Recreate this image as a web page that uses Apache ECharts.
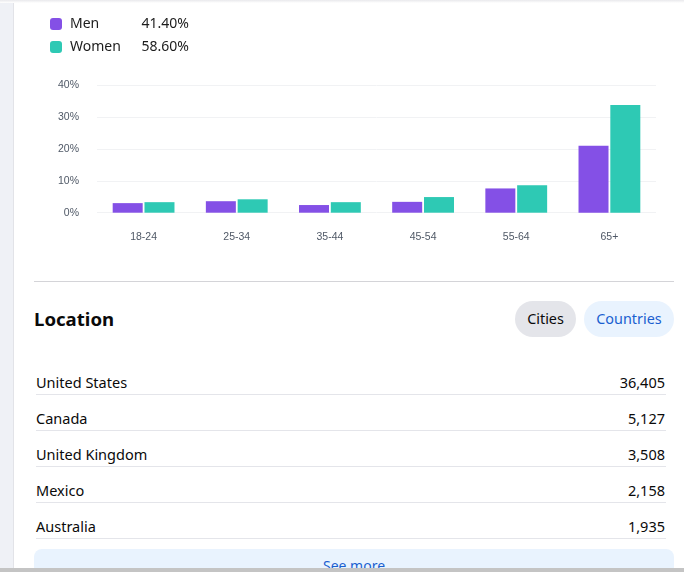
<!DOCTYPE html>
<html>
<head>
    <title>Audience</title>
    <script src="https://cdn.jsdelivr.net/npm/echarts@6/dist/echarts.min.js"></script>
    <style>
        html, body { margin: 0; padding: 0; width: 684px; height: 572px; overflow: hidden; background: #fff; }
        body { font-family: "Noto Sans", sans-serif; color: #0a0a0a; }
        /* 页面外框 */
        .side { position: absolute; left: 0; top: 0; width: 13px; height: 572px; background: #eff1f6; border-right: 1px solid #e2e3e8; }
        .shade { position: absolute; left: 0; top: 0; width: 684px; height: 3px; background: linear-gradient(#e9e9ec, #fff); }
        .foot { position: absolute; left: 0; top: 568px; width: 684px; height: 4px; background: #c4c4c4; z-index: 3; }
        #chart { position: absolute; left: 0; top: 0; width: 684px; height: 250px; }
        .rule { position: absolute; left: 34px; top: 281px; width: 640px; height: 1px; background: #d4d4d8; }
        .heading { position: absolute; left: 34px; top: 305px; line-height: 28px; font-size: 18.6px; font-weight: 700; }
        .pill { position: absolute; top: 301px; height: 36px; line-height: 36px; border-radius: 18px; text-align: center; font-size: 14.4px; }
        .cities { left: 515px; width: 61px; background: #e4e5ea; }
        .countries { left: 584px; width: 90px; background: #e9f3fe; color: #1a5fd0; }
        .row { position: absolute; left: 36px; width: 630px; height: 24px; line-height: 25px; font-size: 14.5px; border-bottom: 1px solid #e4e5ea; }
        .row b { font-weight: 400; position: absolute; right: 1px; }
        .more { position: absolute; left: 34px; top: 549px; width: 640px; height: 40px; border-radius: 8px; background: #e9f3fe; color: #1a5fd0; text-align: center; line-height: 34px; font-size: 14px; }
    </style>
</head>
<body>
    <div class="side"></div>
    <div class="shade"></div>
    <div id="chart"></div>
    <div class="rule"></div>
    <div class="heading">Location</div>
    <div class="pill cities">Cities</div>
    <div class="pill countries">Countries</div>
    <div id="rows"></div>
    <div class="more">See more</div>
    <div class="foot"></div>

    <script>
        // 数据
        var ageGroups = ['18-24', '25-34', '35-44', '45-54', '55-64', '65+'];
        var menValues = [3.0, 3.6, 2.4, 3.4, 7.6, 21.0];
        var womenValues = [3.3, 4.2, 3.3, 4.9, 8.6, 33.7];
        var genderShares = { Men: '41.40%', Women: '58.60%' };
        var countries = ['United States', 'Canada', 'United Kingdom', 'Mexico', 'Australia'];
        var countryCounts = ['36,405', '5,127', '3,508', '2,158', '1,935'];

        // 地区列表
        var rowsBox = document.getElementById('rows');
        countries.forEach(function (name, i) {
            var row = document.createElement('div');
            row.className = 'row';
            row.style.top = (370 + i * 36) + 'px';
            row.textContent = name;
            var count = document.createElement('b');
            count.textContent = countryCounts[i];
            row.appendChild(count);
            rowsBox.appendChild(row);
        });

        // 年龄性别图表
        var chart = echarts.init(document.getElementById('chart'));
        chart.setOption({
            animation: false,
            legend: {
                left: 50,
                top: 17,
                padding: 0,
                orient: 'vertical',
                icon: 'roundRect',
                itemWidth: 12,
                itemHeight: 12,
                itemGap: 9,
                selectedMode: false,
                formatter: function (name) {
                    return '{n|' + name + '}{v|' + genderShares[name] + '}';
                },
                textStyle: {
                    rich: {
                        n: { width: 66, height: 12, padding: [0, 0, 0, 3], fontSize: 14, fontFamily: 'Noto Sans', color: '#1c1c1c' },
                        v: { width: 53, height: 12, align: 'right', fontSize: 14, fontFamily: 'Noto Sans', color: '#1c1c1c' }
                    }
                }
            },
            grid: { left: 97, right: 28, top: 85, height: 127.7 },
            xAxis: {
                type: 'category',
                data: ageGroups,
                axisLine: { show: false },
                axisTick: { show: false },
                axisLabel: { margin: 19, fontSize: 10.5, fontFamily: 'Liberation Sans', color: '#4f5866' }
            },
            yAxis: {
                type: 'value',
                min: 0,
                max: 40,
                interval: 10,
                axisLine: { show: false },
                axisTick: { show: false },
                axisLabel: { margin: 18, padding: [4, 0, 0, 0], fontSize: 10.5, fontFamily: 'Liberation Sans', color: '#4f5866', formatter: '{value}%' },
                splitLine: { lineStyle: { color: '#f1f2f4', width: 1 } }
            },
            series: [
                { name: 'Men', type: 'bar', data: menValues, barWidth: 30, barGap: '6%', itemStyle: { color: '#8450e6' } },
                { name: 'Women', type: 'bar', data: womenValues, barWidth: 30, barGap: '6%', itemStyle: { color: '#2ec9b4' } }
            ]
        });
    </script>
</body>
</html>
